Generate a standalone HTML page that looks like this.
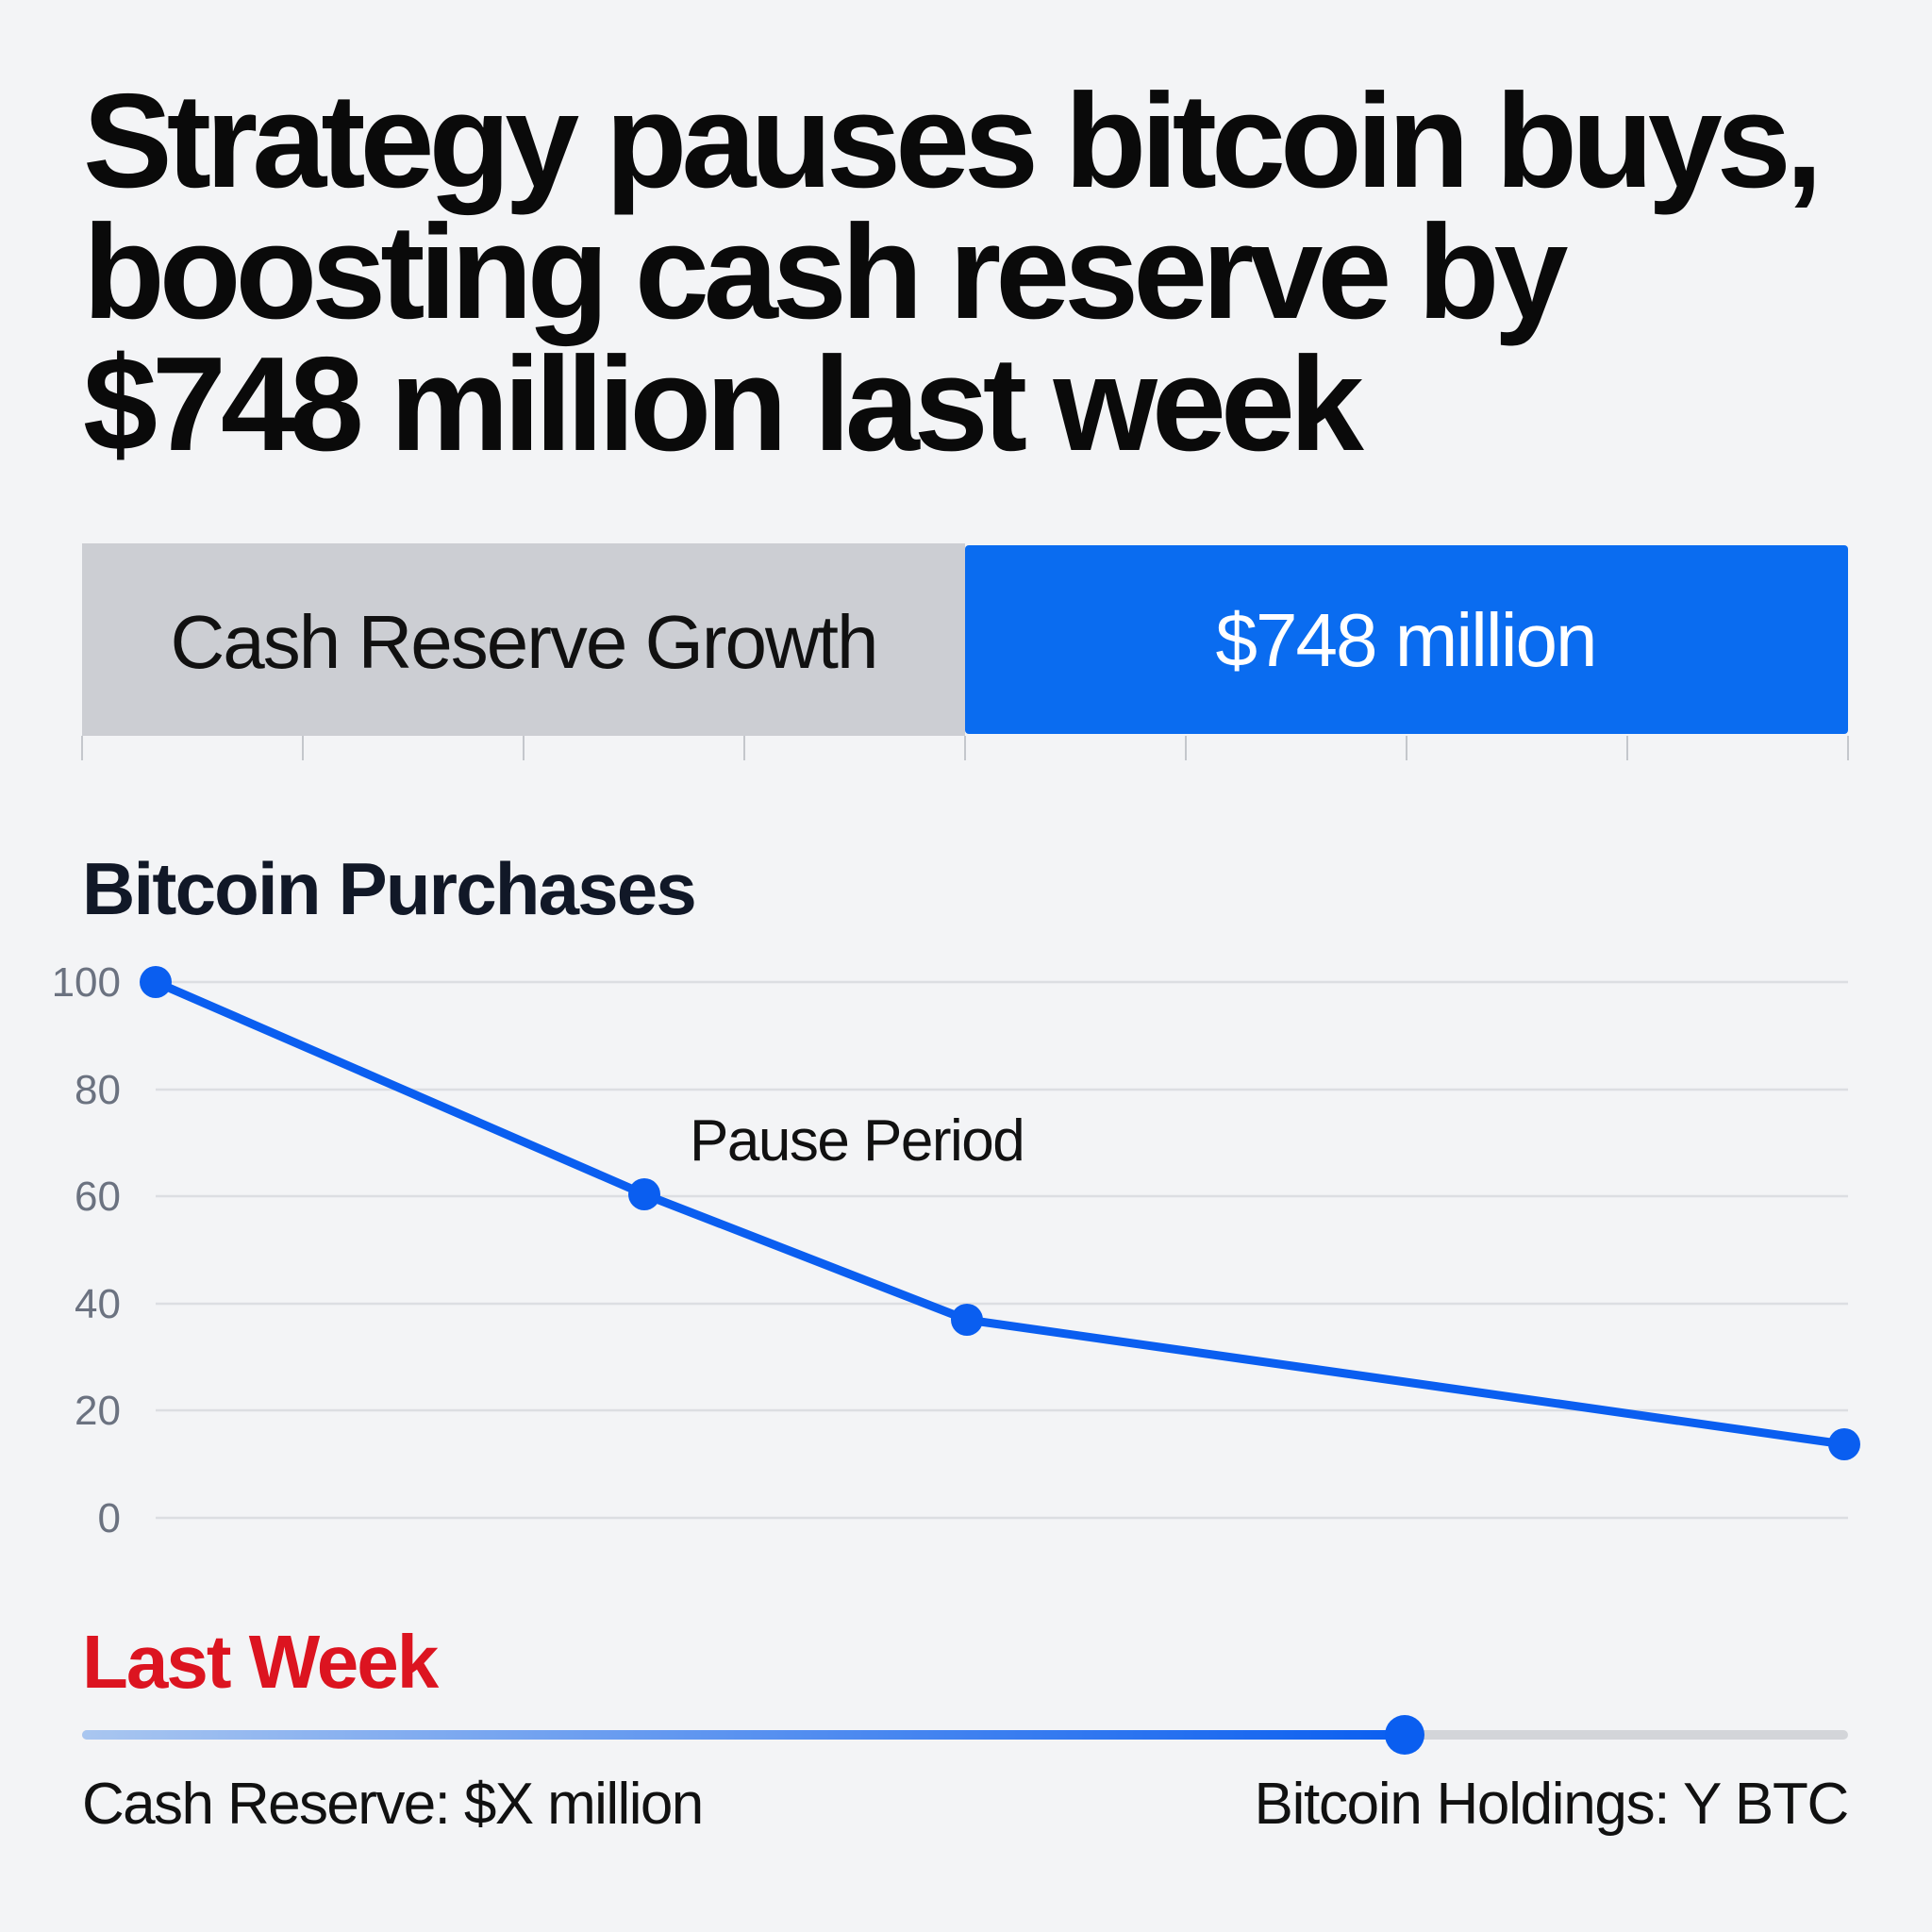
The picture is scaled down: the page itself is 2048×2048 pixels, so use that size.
<!DOCTYPE html>
<html><head><meta charset="utf-8"><style>
html,body{margin:0;padding:0;background:#f3f4f6;}
svg{display:block}
</style></head><body>
<svg width="2048" height="2048" viewBox="0 0 2048 2048" xmlns="http://www.w3.org/2000/svg" font-family="Liberation Sans, sans-serif">
<rect width="2048" height="2048" fill="#f3f4f6"/>
<g font-weight="bold" font-size="142" fill="#0a0a0a" letter-spacing="-6">
<text x="88" y="198">Strategy pauses bitcoin buys,</text>
<text x="88" y="337">boosting cash reserve by</text>
<text x="88" y="477">$748 million last week</text>
</g>
<rect x="87" y="576" width="936" height="204" fill="#ccced3"/>
<rect x="1023" y="578" width="936" height="200" rx="4" fill="#0a6cf0"/>
<text x="555" y="708" font-size="80" fill="#111" text-anchor="middle" letter-spacing="-2">Cash Reserve Growth</text>
<text x="1490" y="706" font-size="80" fill="#fff" text-anchor="middle" letter-spacing="-2">$748 million</text>
<g stroke="#c4c7cc" stroke-width="2">
<line x1="87" y1="780" x2="87" y2="806"/><line x1="321" y1="780" x2="321" y2="806"/><line x1="555" y1="780" x2="555" y2="806"/><line x1="789" y1="780" x2="789" y2="806"/><line x1="1023" y1="780" x2="1023" y2="806"/><line x1="1257" y1="780" x2="1257" y2="806"/><line x1="1491" y1="780" x2="1491" y2="806"/><line x1="1725" y1="780" x2="1725" y2="806"/><line x1="1959" y1="780" x2="1959" y2="806"/>
</g>
<text x="87" y="969" font-size="78" font-weight="bold" fill="#111827" letter-spacing="-1.8">Bitcoin Purchases</text>
<g stroke="#dcdee2" stroke-width="2.5">
<line x1="165" y1="1041" x2="1959" y2="1041"/><line x1="165" y1="1155" x2="1959" y2="1155"/><line x1="165" y1="1268" x2="1959" y2="1268"/><line x1="165" y1="1382" x2="1959" y2="1382"/><line x1="165" y1="1495" x2="1959" y2="1495"/><line x1="165" y1="1609" x2="1959" y2="1609"/>
</g>
<g font-size="44" fill="#6b7280" text-anchor="end">
<text x="128" y="1056">100</text><text x="128" y="1170">80</text><text x="128" y="1283">60</text><text x="128" y="1397">40</text><text x="128" y="1510">20</text><text x="128" y="1624">0</text>
</g>
<polyline points="165,1041 683,1266 1025,1399 1955,1531" fill="none" stroke="#0a5ef0" stroke-width="9" stroke-linejoin="round"/>
<g fill="#0a5ef0"><circle cx="165" cy="1041" r="17"/><circle cx="683" cy="1266" r="17"/><circle cx="1025" cy="1399" r="17"/><circle cx="1955" cy="1531" r="17"/></g>
<text x="731" y="1230" font-size="62" fill="#111" letter-spacing="-1.5">Pause Period</text>
<text x="87" y="1789" font-size="80" font-weight="bold" fill="#dc1420" letter-spacing="-2">Last Week</text>
<defs><linearGradient id="g" x1="0" x2="1"><stop offset="0" stop-color="#a9c6f0"/><stop offset="1" stop-color="#0a5ef0"/></linearGradient></defs>
<rect x="87" y="1834" width="1872" height="10" rx="5" fill="#d3d5d9"/>
<rect x="87" y="1834" width="1402" height="10" rx="5" fill="url(#g)"/>
<circle cx="1489" cy="1839" r="21" fill="#0a5ef0"/>
<text x="87" y="1933" font-size="62" fill="#111" letter-spacing="-1.6">Cash Reserve: $X million</text>
<text x="1959" y="1933" font-size="62" fill="#111" text-anchor="end" letter-spacing="-1.3">Bitcoin Holdings: Y BTC</text>
</svg>
</body></html>
